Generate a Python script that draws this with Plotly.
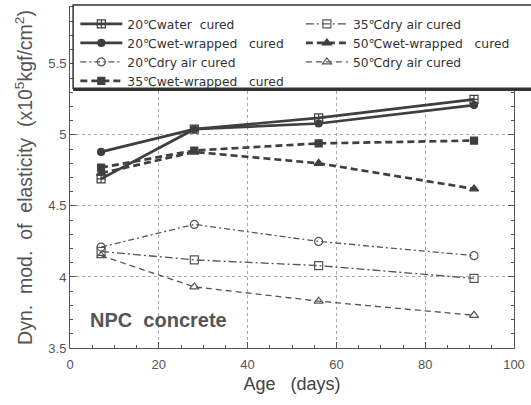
import plotly.graph_objects as go

# Curing age (days) at which the specimens were tested
age_days = [7, 28, 56, 91]

# Dynamic modulus of elasticity (x10^5 kgf/cm^2) for each curing condition
water_20 = [4.69, 5.04, 5.12, 5.25]
wet_20 = [4.88, 5.04, 5.08, 5.21]
dry_20 = [4.21, 4.37, 4.25, 4.15]
wet_35 = [4.77, 4.89, 4.94, 4.96]
dry_35 = [4.18, 4.12, 4.08, 3.99]
wet_50 = [4.73, 4.88, 4.80, 4.62]
dry_50 = [4.15, 3.93, 3.83, 3.73]

series_names = [
    "20℃water\u00a0\u00a0cured",
    "20℃wet-wrapped\u00a0\u00a0\u00a0cured",
    "20℃dry\u00a0air\u00a0cured",
    "35℃wet-wrapped\u00a0\u00a0\u00a0cured",
    "35℃dry\u00a0air\u00a0cured",
    "50℃wet-wrapped\u00a0\u00a0\u00a0cured",
    "50℃dry\u00a0air\u00a0cured",
]

x_ticks = [0, 20, 40, 60, 80, 100]
y_ticks = [3.5, 4, 4.5, 5, 5.5]

INK = "#3f3f3f"
INK_THIN = "#555555"

styles = [
    # (values, legend group, line width, dash, marker symbol, marker size)
    (water_20, "legend", 2.7, "solid", "square-cross-open", 8),
    (wet_20, "legend", 2.7, "solid", "circle", 7),
    (dry_20, "legend", 1.3, "6px,3px,2px,3px", "circle-open", 8),
    (wet_35, "legend", 2.7, "7px,4px", "square", 7),
    (dry_35, "legend2", 1.3, "8px,3px,2px,3px", "square-open", 8),
    (wet_50, "legend2", 2.7, "7px,4px", "triangle-up", 8),
    (dry_50, "legend2", 1.3, "6px,4px", "triangle-up-open", 8),
]

fig = go.Figure()
for name, (vals, leg, lw, dash, sym, msz) in zip(series_names, styles):
    color = INK if lw > 2 else INK_THIN
    fig.add_trace(go.Scatter(
        x=age_days, y=vals, name=name, legend=leg,
        mode="lines+markers",
        line=dict(color=color, width=lw, dash=dash),
        marker=dict(symbol=sym, size=msz, color=color,
                    line=dict(color=color, width=1.2)),
    ))

# Legend frame with a heavy lower edge
fig.add_shape(type="rect", xref="paper", yref="paper",
              x0=0.007, x1=1.07, y0=0.762, y1=1.006,
              line=dict(color="#333333", width=1.5),
              fillcolor="white", layer="above")
fig.add_shape(type="line", xref="paper", yref="paper",
              x0=0.007, x1=1.07, y0=0.758, y1=0.758,
              line=dict(color="#333333", width=3), layer="above")

fig.add_annotation(x=4, y=3.7, xref="x", yref="y", xanchor="left",
                   text="<b>NPC\u00a0\u00a0concrete</b>", showarrow=False,
                   font=dict(family="Liberation Sans, Arial", size=20,
                             color="#555555"))

axis_common = dict(
    showline=True, linecolor="#555555", linewidth=1, mirror="ticks",
    ticks="inside", ticklen=6, tickcolor="#555555",
    showgrid=True, gridcolor="#a8a8a8", griddash="dot", gridwidth=1,
    zeroline=False,
    tickfont=dict(family="Liberation Sans, Arial", size=13, color="#555555"),
)

fig.update_xaxes(
    range=[0, 100], tickvals=x_ticks, ticktext=[str(v) for v in x_ticks],
    ticklabelstandoff=4,
    minor=dict(dtick=5, ticks="inside", ticklen=3, tickcolor="#555555",
               showgrid=False),
    title=dict(text="Age\u00a0\u00a0\u00a0(days)", standoff=6,
               font=dict(family="Liberation Sans, Arial", size=18,
                         color="#444444")),
    **axis_common,
)
fig.update_yaxes(
    range=[3.5, 5.9], tickvals=y_ticks, ticktext=[str(v) for v in y_ticks],
    minor=dict(dtick=0.1, ticks="inside", ticklen=3, tickcolor="#555555",
               showgrid=False),
    title=dict(text="Dyn.\u00a0\u00a0mod.\u00a0\u00a0of\u00a0\u00a0elasticity\u00a0\u00a0(x10<sup>5</sup>kgf/cm<sup>2</sup>)",
               standoff=10,
               font=dict(family="Liberation Sans, Arial", size=19.5,
                         color="#555555")),
    **axis_common,
)

legend_common = dict(
    orientation="v", yanchor="top", xanchor="left",
    bgcolor="rgba(0,0,0,0)", borderwidth=0,
    font=dict(family="DejaVu Sans", size=12.3, color="#333333"),
    tracegroupgap=0, itemwidth=42,
)

fig.update_layout(
    width=531, height=405,
    margin=dict(l=70, r=17, t=7, b=57),
    paper_bgcolor="white", plot_bgcolor="white",
    showlegend=True,
    legend=dict(x=0.012, y=0.993, **legend_common),
    legend2=dict(x=0.52, y=0.993, **legend_common),
)

fig.write_html("out.html")
